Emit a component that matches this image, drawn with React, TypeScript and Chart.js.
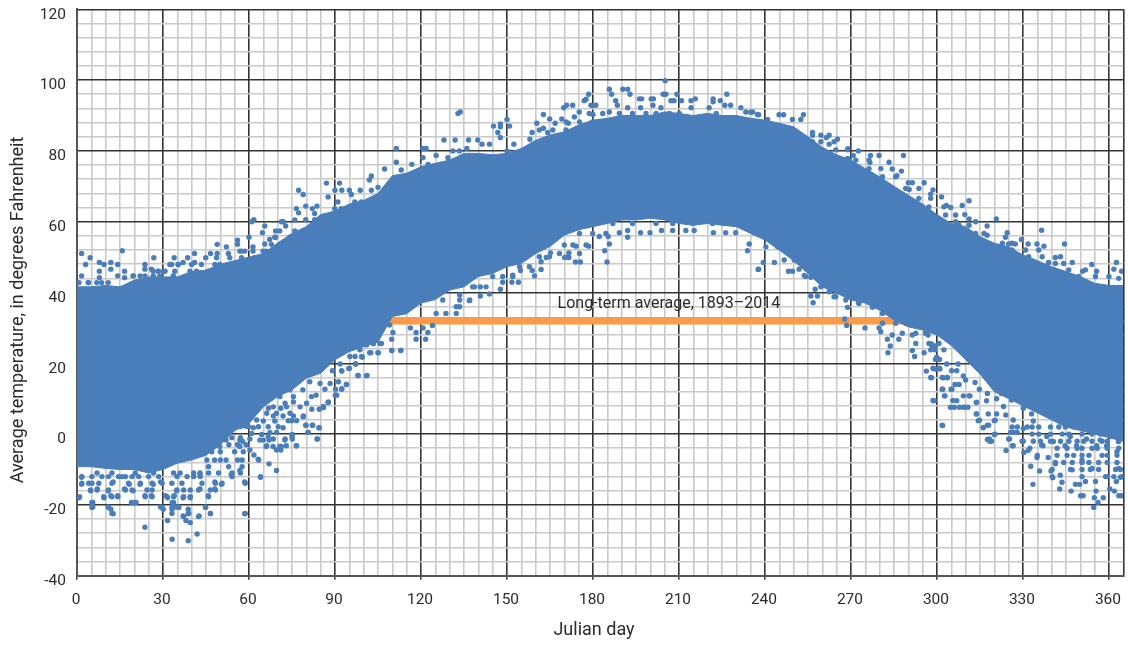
import React, { useEffect, useRef } from "react";
import { Chart, registerables } from "chart.js";

Chart.register(...registerables);

const FONT = 'Roboto, "Liberation Sans", sans-serif';
const BLUE = "#4a7ebb";
const ORANGE = "#fb9a48";
const INK = "#2b2b2b";

const bandDays = [0,5,10,15,20,25,30,35,40,45,50,55,60,65,70,75,80,85,90,95,100,105,110,115,120,125,130,135,140,145,150,155,160,165,170,175,180,185,190,195,200,205,210,215,220,225,230,235,240,245,250,255,260,265,270,275,280,285,290,295,300,305,310,315,320,325,330,335,340,345,350,355,360,365];
const bandTop = [41.6,41.6,42,41.6,43.5,44.4,44.4,44.4,45.9,46.3,48,49,50,51,54,56.7,58.6,62,63,65,66,68,73,73.7,75.5,76.5,77.4,79.3,79.3,78.9,79.3,80.7,83,84.5,85.4,87.3,88.7,89.2,90,90,90,91,90.6,90,90.6,90,90,89.2,88.7,87.8,86.8,84,81,78.9,77.4,75,72.7,70,67.5,65,62,59.5,58.6,55.8,53.9,52.9,50.6,49,47.3,45.9,44.5,42.6,42,42];
const bandBottom = [-9.2,-9.2,-9.7,-10,-10,-11,-10,-8.2,-7.3,-6,-3,1,3,7.7,10.6,12.5,15.8,17.2,21,23.3,24.7,26,33.2,34,37,38,40.7,41.6,44.5,45.4,47.3,48.2,51,53,56.2,57.7,58.6,59.5,60.5,60.5,61,60.5,59.5,59,59.5,59,58.6,56.7,54.8,52,49,45.4,41.6,39.8,37.9,37,35,32.2,30.3,29.4,28,25,21,17,12,10,8,6,4,2,1,0,-1,-2];

// Individually readable points above the solid cloud: [day, temperature].
const pointsAbove: [number, number][] = [
[1.6,51],[4.6,49.8],[3,47.9],[1.6,44.7],[4,42.8],[7.8,48.5],[9.4,47.9],[11.8,48.5],[14.2,47.9],[15.8,51.8],[11.8,46.6],[14.2,44.7],[16.6,46],[16.6,44.2],[7.8,46],[7.8,44.2],[19.6,44.7],[23.7,47.9],[23.7,46.6],[26.8,49.8],[26,46.6],[28.3,46],[30,46],[32.4,47.9],[33.9,49.8],[35.3,47.9],[37,48.5],[38.6,49.8],[41,51],[41,48.5],[43.4,47.9],[44.9,49.8],[46.6,51],[48.9,53.6],[48.9,51],[52.1,52.9],[52.8,51],[56,54.8],[56,53.6],[60,55.6],[60.9,60],[61.7,60.6],[56.8,51.7],[58.5,51.7],[61.4,52.9],[65.5,58.8],[64.7,56.9],[65.5,53.7],[67.2,55],[69.3,57.4],[70.7,57.4],[71.3,60],[72,60],[72.8,58.8],[69.3,55.6],[71.3,53.7],[76,60.5],[76.5,63.7],[77.3,68.9],[78.9,67.7],[77.3,62.5],[79.8,64.4],[82.1,63.7],[83.7,64.4],[79.8,60.6],[82.9,62.3],[87,70.9],[91.6,70.9],[90,68.9],[92.4,68.9],[87.6,67],[91,65.6],[95,68.9],[95.7,67.7],[98.8,68.9],[102,71.8],[102.7,72.9],[102.7,68.9],[105,69.7],
[111.4,80.7],[111.4,76.8],[107.3,74.9],[113.1,74.6],[116.8,76.2],[120.7,80.7],[121.8,80.7],[120.7,78.1],[122.5,76.2],[125.3,78.7],[124.2,74.9],[128,83.1],[131.9,83.1],[129.4,78.1],[132.9,90.6],[133.7,91],[131.1,80],[133.4,80],[136.6,83.1],[139.8,83.1],[136,80.7],[141.3,81.9],[143.9,81.9],[145.3,87],[147.7,87.6],[147.7,86.8],[150,88.9],[150.9,87],[146.8,85.2],[147.7,83.8],[152.4,81.9],[150,80],[158,83.3],[158.8,85.2],[160.4,87.8],[162.7,90.3],[162.7,86.4],[164.9,89],[166.8,87.8],[169.1,89],[164.2,85.2],[169.8,92.2],[170.8,92.9],[172.9,92.9],[171.4,87.8],[176.9,94.2],[178.5,96],[177.6,94.6],[179.3,92.9],[181,92.9],[173.5,89.6],[175.2,91],[180,90.3],[185.7,97.4],[186.5,96],[190.4,97.4],[192.1,97.4],[192.9,96],[187.9,94.2],[188.5,92.9],[192.1,92.2],[185.7,91],[196.2,94.7],[197,94.7],[200.3,94.7],[201.1,94.7],[200.9,92.9],[196.6,92.2],[205.2,99.8],[204.5,96],[205.4,96],[209.3,96],[207.2,94.2],[208.3,94.2],[210.9,94.2],[214.2,94.2],[215.7,94.7],[214.2,92.2],[203.7,92.2],[221.9,94.7],[221.9,93.9],[224.4,94.2],[226.7,96],[226,92.9],[228,92.9],[231.6,92.2],[220.5,92.2],[233.3,91],[235.7,91],[237.4,90.3],
[235,90.9],[237.8,90.2],[240.9,88.9],[244.9,90.2],[246.5,90.2],[249.6,88.9],[253.4,90.2],[252.5,88.9],[256.6,85.2],[261.4,83.8],[265.3,83.3],[262.4,81.9],[268.9,80.6],[272.6,80],[268.8,77.9],[270.8,78.7],[276.8,78.7],[279.8,78.7],[288.3,78.7],[283.3,76.8],[276.6,76.7],[284.4,74.9],[287.6,74.3],[286,73],[290,71],[291.4,71],[295.5,71],[298.6,69],[290.3,69.1],[297.8,67.8],[301.6,67],[311.2,65.9],[308.8,64.6],[304.8,64],[303.3,64.6],[309.7,62],[320.7,60.8],[311.2,60.8],[313.5,60],[306.5,60],[317.5,58.8],[324.5,56.9],[323.9,55.6],[317.5,56.2],[336.5,57.6],[329.5,55],[331.8,53.7],[334.9,53.7],[337.3,53.1],[344.5,53.7],[341.3,49.9],[325,53.7],[327.3,53.7],[354,47.9],[347.2,48.5],[362.6,48.5],[361.7,46.6],[364.4,46],[355.7,46],[350.8,46],[338.9,48.5],[363.4,44],
];

// Individually readable points below the solid cloud: [day, temperature].
const pointsBelow: [number, number][] = [
[0.7,-18],[1.6,-12.2],[1.6,-14.2],[4.8,-16],[5.5,-19.3],[5.5,-20.6],[9.4,-18],[10.9,-16],[11.8,-17.4],[14.2,-17.4],[10.9,-20.6],[11.8,-21.2],[12.6,-22.5],[7.1,-15.5],[12.6,-13.5],[16.6,-15.5],[19,-19.3],[20.6,-19.3],[19.6,-16],[18.2,-14.2],[22,-14.2],[23.7,-17.4],[26,-17.4],[23.7,-26.3],[26.6,-14.2],[29.2,-13.5],[29.2,-20.6],[30.1,-21.2],[30.9,-17.4],[31.6,-18],[31.6,-24.4],[33.2,-29.7],[33.2,-21.2],[34.7,-20.6],[33.2,-19.3],[33.9,-17.4],[34.7,-16],[35.5,-20.6],[37,-23.1],[38,-24.4],[38.8,-22.5],[38.8,-21.2],[38.8,-30.1],[39.5,-25],[41.9,-28.2],[42.6,-23.1],[37,-18],[39.5,-18],[44.9,-20.6],[46.6,-22.5],[45.8,-17.4],[48.1,-15.5],[50.4,-14.2],[48.1,-13.5],[42.9,-11.5],[42.9,-15.5],[58.5,-22.5],[58.5,-13.5],[53.8,-11.5],[56.8,-10.3],[60.3,-4.5],[61.7,-5.9],[63.2,-7.1],[64,-12.2],[67,-8.4],[69.6,-10.3],[69.6,-4.5],[71.1,-4.5],[76.5,-3.3],[75,-0.7],[73,-3.3],[83.7,-1.4],[80.6,0.5],[79.8,2.5],[82.1,2.5],[84.4,1.8],[78.9,4.9],[86,7.5],[87.6,8.9],[90.1,11],[92.4,12.8],[94,14],[92.4,17.8],[94.8,18.5],[98,16.6],[101.2,16.6],[97.2,19.8],[99.5,21.7],[102.1,23],[105,23],
[109.8,23.6],[112.9,23.6],[106.2,25.6],[109.8,26.8],[118.3,26.8],[121.6,26.8],[122.4,28.7],[124,30.7],[118.3,28.7],[116.3,30],[120.7,30],[109,30.8],[110.2,28.7],[133.5,36],[132.3,36],[136.9,37.7],[133.5,39.3],[140.7,39],[143.9,39.6],[138.7,41.6],[140.7,41.6],[147.7,40.9],[151.7,42.9],[154,42.9],[148.5,42.9],[152,44.9],[159.6,44.7],[158.8,46.2],[161.9,46.5],[161.9,48.7],[154.7,46.2],[163.7,49.9],[165.2,51.2],[170.1,49.9],[171.6,49.9],[173.9,48.6],[175.6,48.6],[171.6,51.2],[178.5,53.1],[184.9,48.6],[184.1,51.8],[185.7,53.7],[185.3,55.8],[182.2,55.8],[174.1,53.1],[192.1,55.6],[192.1,57.5],[189.2,56.9],[196.6,56.9],[199.9,56.9],[203.9,57.5],[207.8,57.5],[212.4,57.5],[215.3,57.5],[222,56.9],[226.3,56.9],[229.8,56.9],[233.9,51.8],[234.5,53.7],[237.6,46.5],[236.2,56.9],
[237.8,46.6],[239.4,48.5],[243.3,48.5],[248.2,46],[249.6,46],[251.9,46.6],[253.7,44.8],[256,44.3],[257.5,40.9],[256,39],[258.3,39],[256.8,37.1],[262.4,40.2],[264.1,38.8],[268.2,37.9],[268.8,35.8],[267.8,32.5],[268.5,30.7],[274.9,30],[272.6,37.1],[275.7,37.4],[277.5,35.8],[279.8,30],[280.4,28.9],[284.4,28],[282.7,26.8],[286.7,26.8],[283.7,24.9],[282.9,23],[291.4,23.6],[292.2,21.9],[295.5,23],[298.1,25.5],[299.5,24.9],[291.4,28],[296.9,28],[300.9,21.1],[299.5,21.1],
[296.3,17.8],[297.8,16],[298.6,18.6],[300.9,18.6],[301.8,16],[303.6,16],[301.8,12.7],[304.9,12.7],[302.6,10.8],[298.6,9.5],[306.3,14],[305.5,9.5],[304.7,7.6],[307.8,7.6],[309.6,7.6],[301.8,2.5],[311.2,10.8],[313.7,8.9],[313.7,5.7],[314.4,3.8],[316.1,1.8],[317.6,2.5],[320,3.8],[320,-0.1],[317.6,-1.5],[318.4,-2],[325,-1.4],[325.7,0.5],[324.1,-4.6],[326.3,-3.3],[329.7,-2],[330.3,-5.2],[331.8,-4.6],[332.7,-9.1],[334.9,-6.6],[335.8,-10.4],[333.5,-14.2],[336.5,-3.1],[338.8,-6.6],[339.8,-10.4],[340.4,-12.3],[341.3,-8.4],[342.8,-15.5],[343.6,-13.6],[343,-11.6],[346.8,-16.1],[348.3,-14.2],[349.8,-14.2],[350.1,-17.4],[351,-17.4],[347.2,-10.1],[351.8,-13.4],[350.6,-7.3],[354.1,-9.7],[354.7,-20.7],[354.9,-18],[356.2,-19.3],[358,-18],[355.5,-16.1],[355.3,-13.4],[358.8,-12],[360.3,-15.5],[361.9,-16.1],[363.4,-17.4],[364.4,-17.4],[362.6,-13.4],[363.4,-9.7],[364,-12.2],[362.8,-5],
// fringe
[105.1,23],[102.5,23],[109.8,23.6],[113,23.6],[98.1,16.5],[101,16.5],[97.2,19.8],[95,18.6],[92.3,17.9],[94,14],[92.3,12.7],[90.6,11],[90.2,12.7],[91.2,14.8],[87.7,9.1],[85.9,7.8],[84.5,7],[81.9,7],[79,5.1],[76.6,3.8],[74.9,3.8],[79.9,2.5],[82.2,2.5],[84.5,1.8],[80.7,0.5],[83.9,-1.4],[75.1,-0.1],[75.1,-1.4],[76.6,-3.3],[70.8,-3.4],[72.6,-1.4],[68.5,-1.4],[66.7,-0.7],[71.9,1.8],[69.6,0.5],[67.3,0.5],[64.4,-0.1],[65,3.7],[69,3.7],[73.7,3.8],[68.5,5.1],[71.9,5.1],[75.5,5.1],[66.8,7.3],[71.1,7.3],[80.1,8.7],[75.5,9.1],[83.4,11],[81.8,10.6],[78.8,12.5],[86.5,12.7],[84.8,14.3],[88.3,14.3],[62.7,4],[61.5,1.8],[59.2,4],[58.6,2.3],[60.9,0.2],[63.8,-1.7],[66.2,-3.3],[60.3,-1.4],[57.8,-2.1],[72.6,8.7],[77.2,14.8],[81.2,14.8],[89.1,17.9],[95.2,21.9],[97,21.9],[99.3,21.9],[91.8,23.8],[91.8,19.8],[98.7,23.8],[95.2,25.5],[98.1,26],[103.4,25.5],[105.7,25.6],[101,25.2],
[302,2.4],[299,9.4],[298.1,15.9],[299.3,18.4],[301,18.4],[299.9,21.7],[298.2,25],[299.3,23.8],[303.4,19.8],[302.2,15.9],[303.6,15.9],[305.1,17.9],[307.4,19.8],[306.9,17.9],[309.2,16.4],[307.7,14],[310,15.3],[302,12.7],[305.2,12.7],[302.8,10.8],[306.9,9.4],[306,7.6],[309.2,10.8],[311.5,10.8],[309.2,7.6],[310.8,7.6],[313.8,9],[313.3,14.6],[314.8,12.7],[317.6,11.5],[317.3,9.4],[313.8,5.7],[314.8,3.9],[316.2,1.9],[318,2.5],[320.3,3.9],[320.3,0],[318.3,-1.4],[319,-2],[325.3,-1.4],[326.6,-3.3],[326.8,0.5],[328,0.5],[330.1,-2],[333.6,-2],[337,-3.3],[340.6,-2.1],[344.7,-3.3],[348.7,-3.3],[355.7,-3.3],[359.2,-3.3],[363.3,-2.1],[332.4,-4],[338.3,-0.7],[346.5,-0.7],[352.2,-1.4],[356.9,-1.7],[361,-0.7],[320.8,5.7],[324,5.4],[326.6,4],[317.9,5.7],[330.1,7.3],[323.2,7.8],[333,5.7],[333.6,3.7],[330.1,1.6],[322.5,11.5],[320.8,10],[326,9.6],
];

// Rows of points read across the fringe: [temperature, days].
const readRows: [number, number[]][] = [
[-11,[7,12.2,20.3,26.7,33.7,36,40.7,42.9,45.9,49.4,54.1,57]],
[-12,[1.7,5.2,8.7,11,14.5,15.7,16.9,19.2,21.5,25,28.5,34.9,38.4,40.7,43,54.1,64]],
[-13.9,[1.7,4.1,5.2,7.6,12.2,18,22.1,26.2,29.7,33.1,36.6,43.6,48.3,50.6,58.7]],
[-15.8,[4.7,7,11,16.9,19.2,24.4,26.2,34.9,37.2,39.5,42.4,46.5,48.3]],
[-17.7,[0.9,9.3,12.2,14.2,23.8,26.2,31.4,33.7,37.2,39.5,45.9]],
[-19.3,[5.2,19.2,20.3,33.7]],
[-20.7,[5.2,11,29.7,33.1,35.5,44.8]],
[-22.4,[12.2,33.1,39,46.5,58.7]],
[-23.3,[37.2,42.4]],
[-9.2,[45.9,52.9,57.6]],
[-7.3,[45.3,50,57.6,63.4,48,52,56]],
[10.6,[56.9,61.5,67,70.8,75.5]],
[12.5,[60.3,65,69.6,74.3]],
[7.7,[59.2,63.8,68.5,73.1,77.8]],
[5.9,[58,61.5,66.2,69.6,74.3]],
[2.1,[56.9,59.8,63.3,66.7,70.2]],
[-1,[51,54,57]],
[-3,[49,53,56,59]],
[-5,[47,50,55,58]],
[-1.7,[47.5,52,56.8,65,67,72.5]],
[-3.5,[49.8,56.8,66,68.4,71.3]],
[2,[326.2,328,331.5,333.2,335.5,339.6,342.5,344.8,347.7,351.8,355.3,358.8,363.4]],
[0,[333.2,335.5,339.6,343.7,346,350.6,354.1,357,360.5,364]],
[-2,[336.1,339.6,343.1,346,348.9,351.2,354.1,357.6,359.4,363.4]],
[-4,[341.9,345.4,348.9,350.6,354.1,355.9,359.4,363.4]],
[-6,[335,341.9,345.4,347.7,350.6,353,357.6,359.4,362.8]],
[-8,[341.3,344.2,347.2,350.6,353,356.4,359.4,362.8]],
[-10,[340.2,346.6,350.6,353.5,356.4,362.3,364]],
[-12,[340.2,350.6,359.4,361.7,364.6]],
[42.8,[0.7,3.9,6.9,8.6,10.9,22]],
[44.7,[19.6,22,23.7,26.6,28.9,33.6]],
[46,[26.6,28.3,30.7,34.1,39.4,41.7,45.8]],
[47.9,[33,35.3,40,48.1,49.8]],
[49.8,[48.7,53.3,57.4,62]],
[51.7,[57.4,61.4,64.9,66]],
[53.6,[67.8,71.9,74.2]],
[55.6,[69,74.2,77.1]],
[57.4,[76,78.9]],
[60.6,[82.9,87.6,90.5]],
[63.7,[89.9,92.2]],
[65.6,[96.9,99.2]],
[84.4,[256.6,259.5,262.4]],
[82.6,[256.6,259.5,264.1]],
[80.3,[264.7,268.8]],
[77.4,[269.3,271.7,276.3]],
[75,[276.3,280.4]],
[72.7,[281,285.6]],
[69.4,[289.1,293.7]],
[66.6,[293.7,297.8]],
[64.2,[297.2,302.4]],
[61.9,[303,306.5]],
[59,[307.7,311.2]],
[56.7,[313.5,316.4]],
[53.9,[322.8,326.2]],
[52,[326.2,330.9,335.5]],
[50.1,[332,336.7,343.1]],
[48.2,[341.3,344.2]],
[46.4,[340.8,346,351.8]],
[44.5,[349.5,355.3,360]],
[85.9,[161.3,166,170.6]],
[88.2,[170.6,175.3,179.9,185.7,189.2,193.8,198.5,205.5,210.1,215.9,221.7,227.5,233.3]],
[90.6,[178.7,183.4,189.2,193.8,198.5,202,206.7,210.1,223]],
[59.5,[186.9,193.8,202,207.8,214.8,221.7,228.7,233.3]],
[61.4,[191.5,197.3,204.3,210.1,215.9]],
[50,[170.6]],
[51,[168.3,175.3]],
[53.4,[170,173,177.6]],
[56.7,[175.3,179.9,184.5]],
[34.1,[125.3,128.7,132.3]],
[37.9,[127.6,133.5,137]],
[41.6,[138,142.7]],
[44.5,[145,148.5,152]],
[47.3,[154.4,157.8]],
[50.1,[161.3,164.8]],
[52.9,[240.3,244.4]],
[49.2,[246.7,250.2]],
[44.5,[254.2,257.7]],
[41.6,[259.5,263.5]],
[38.8,[264.7,269.3,274]],
[36.9,[272.8,278.6]],
[34.1,[281,284.4]],
[31.3,[281,285.6,289.1]],
[28.5,[287.9,292.6,296]],
[25.6,[292.6,297.2,300.7]],
[23.8,[297.8,302.4]],
];

const averageDays = [0, 365];
const averageTemps = [32, 32];
const averageLabel = "Long-term average, 1893\u20132014";
const xTitle = "Julian day";
const yTitle = "Average temperature, in degrees Fahrenheit";

const labelPlugin = {
  id: "chartTexts",
  afterDraw(chart: any) {
    const { ctx, scales } = chart;
    ctx.save();
    ctx.fillStyle = INK;
    ctx.textAlign = "center";
    ctx.textBaseline = "middle";
    ctx.font = `16px ${FONT}`;
    ctx.fillText(averageLabel, scales.x.getPixelForValue(206.5), scales.y.getPixelForValue(36.8));
    ctx.font = `18px ${FONT}`;
    ctx.fillText(xTitle, 594, 630);
    ctx.translate(18, 310);
    ctx.rotate(-Math.PI / 2);
    ctx.fillText(yTitle, 0, 0);
    ctx.restore();
  },
};

export default function App() {
  const ref = useRef<HTMLCanvasElement>(null);
  useEffect(() => {
    const rowPoints = readRows.flatMap(([y, days]) => days.map((x) => ({ x, y })));
    const chart = new Chart(ref.current as HTMLCanvasElement, {
      type: "scatter",
      data: {
        datasets: [
          {
            label: "Long-term average",
            data: averageDays.map((x, i) => ({ x, y: averageTemps[i] })),
            showLine: true,
            borderColor: ORANGE,
            borderWidth: 7.5,
            pointRadius: 0,
            order: 3,
          },
          {
            label: "Cloud top",
            data: bandDays.map((x, i) => ({ x, y: bandTop[i] })),
            showLine: true,
            borderColor: BLUE,
            backgroundColor: BLUE,
            borderWidth: 1,
            pointRadius: 0,
            fill: "+1",
            order: 2,
          },
          {
            label: "Cloud bottom",
            data: bandDays.map((x, i) => ({ x, y: bandBottom[i] })),
            showLine: true,
            borderColor: BLUE,
            borderWidth: 1,
            pointRadius: 0,
            order: 2,
          },
          {
            label: "Daily average",
            data: [...pointsAbove, ...pointsBelow].map(([x, y]) => ({ x, y })).concat(rowPoints),
            backgroundColor: BLUE,
            borderWidth: 0,
            pointRadius: 2.7,
            order: 1,
          },
        ],
      },
      options: {
        responsive: false,
        animation: false,
        layout: { padding: { top: 9.3, right: 4.7, left: 0, bottom: 0 } },
        plugins: { legend: { display: false }, tooltip: { enabled: false } },
        scales: {
          x: {
            type: "linear",
            min: 0,
            max: 365,
            afterFit: (s: any) => { s.height = 69.3; s.paddingLeft = 0; s.paddingRight = 0; },
            border: { color: "#555555", width: 2 },
            grid: {
              lineWidth: 1.6,
              color: (c: any) =>
                c.tick && (c.tick.value % 30 === 0 || c.tick.value === 365) ? "#333333" : "#c9c9c9",
              tickColor: (c: any) => (c.tick && c.tick.value % 30 === 0 ? "#444444" : "rgba(0,0,0,0)"),
              tickLength: 4,
            },
            ticks: {
              stepSize: 5,
              autoSkip: false,
              maxRotation: 0,
              padding: 11,
              labelOffset: -1,
              color: INK,
              font: { family: FONT, size: 15.5 },
              callback: (v: any) => (v % 30 === 0 ? String(v) : ""),
            },
          },
          y: {
            type: "linear",
            min: -40,
            max: 120,
            afterFit: (s: any) => { s.width = 77; s.paddingTop = 0; s.paddingBottom = 0; },
            border: { color: "#555555", width: 2 },
            grid: {
              lineWidth: 1.6,
              color: (c: any) => (c.tick && c.tick.value % 20 === 0 ? "#333333" : "#c9c9c9"),
              drawTicks: false,
            },
            ticks: {
              stepSize: 4,
              autoSkip: false,
              padding: 11,
              labelOffset: 5.5,
              color: INK,
              font: { family: FONT, size: 15.5 },
              callback: (v: any) => (v % 20 === 0 ? String(v) : ""),
            },
          },
        },
      },
      plugins: [labelPlugin],
    } as any);
    return () => chart.destroy();
  }, []);
  return (
    <div style={{ position: "absolute", left: 0, top: 0, width: 1128, height: 645, background: "#fff" }}>
      <canvas ref={ref} width={1128} height={645} style={{ display: "block" }} />
    </div>
  );
}
